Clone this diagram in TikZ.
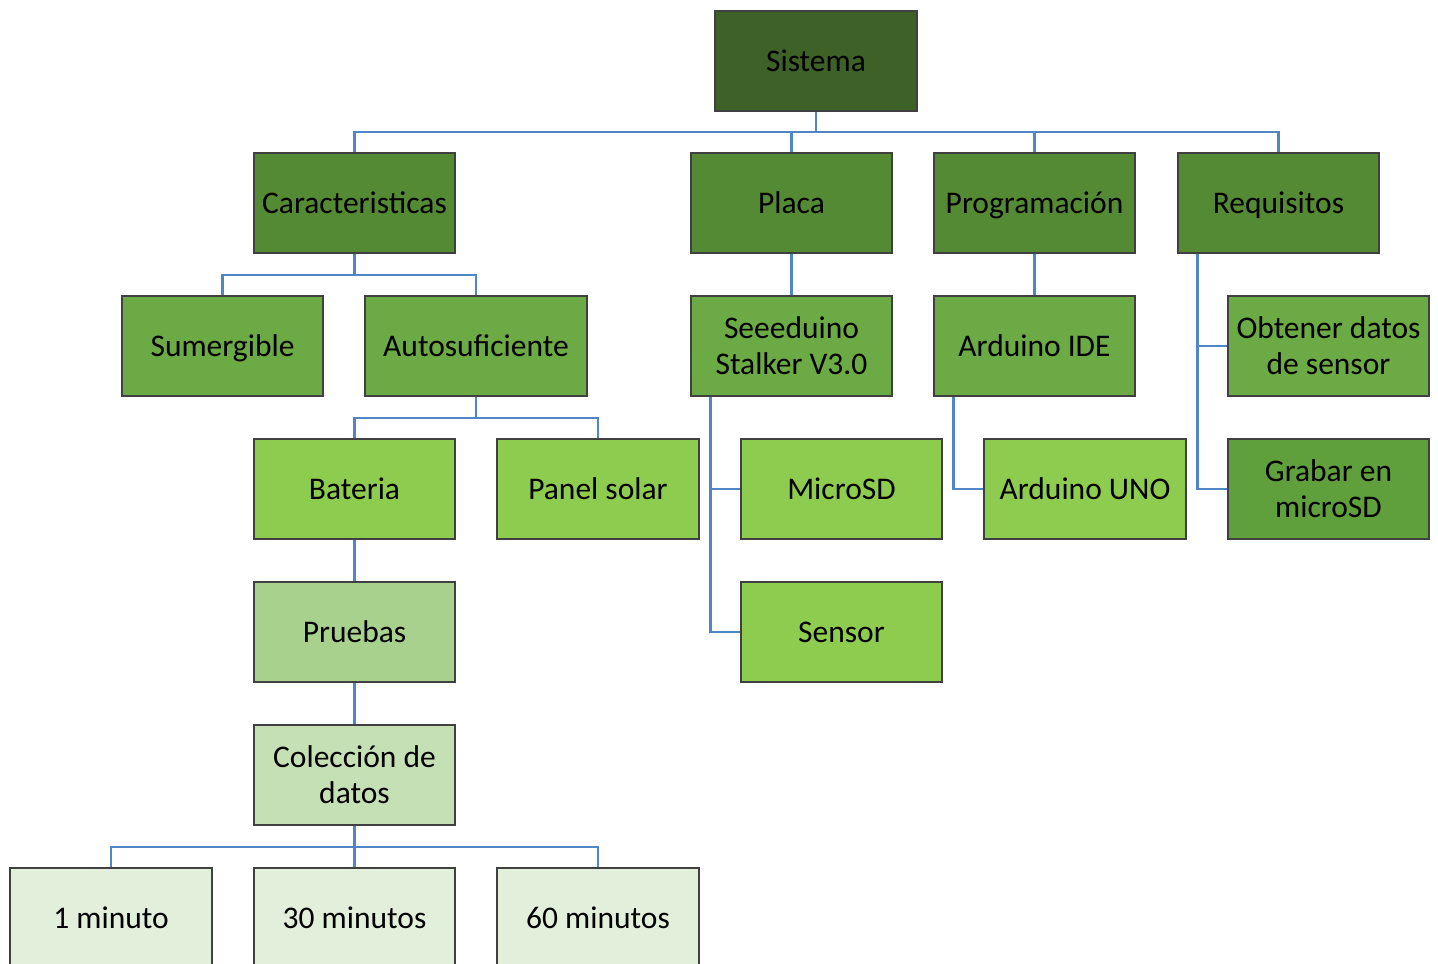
\documentclass[tikz,border=0pt]{standalone}
\usepackage{fontspec}
\setmainfont{Carlito}
\definecolor{cA}{HTML}{3D6126}
\definecolor{cB}{HTML}{558A34}
\definecolor{cC}{HTML}{6BAA44}
\definecolor{cCd}{HTML}{60A03C}
\definecolor{cD}{HTML}{8ECC50}
\definecolor{cE}{HTML}{A9D18E}
\definecolor{cF}{HTML}{C5E0B4}
\definecolor{cG}{HTML}{E2EFDA}
\definecolor{lnc}{HTML}{4F86C6}
\definecolor{bdc}{HTML}{404040}
\begin{document}
\begin{tikzpicture}[x=1pt,y=-1pt,
  box/.style={draw=bdc,line width=1.2pt,rectangle,minimum width=201pt,minimum height=100pt,
    inner sep=2pt,align=center,font=\fontsize{31.5}{36}\selectfont,text=black},
  one/.style={text height=24pt,text depth=4pt},
  conn/.style={draw=lnc,line width=2.8pt}]
\clip (0,0) rectangle (1438,964);
\fill[white] (0,0) rectangle (1438,964);
% nodes
\node[box,one,fill=cA,minimum width=202pt] (sis) at (816,61) {Sistema};
\node[box,one,fill=cB] (car) at (354.5,203) {Caracteristicas};
\node[box,one,fill=cB] (pla) at (791.5,203) {Placa};
\node[box,one,fill=cB] (pro) at (1034.5,203) {Programación};
\node[box,one,fill=cB] (req) at (1278.5,203) {Requisitos};
\node[box,one,fill=cC] (sum) at (222.5,346) {Sumergible};
\node[box,one,fill=cC,minimum width=222pt] (aut) at (476,346) {Autosuficiente};
\node[box,fill=cC] (see) at (791.5,346) {Seeeduino\\Stalker V3.0};
\node[box,one,fill=cC] (ide) at (1034.5,346) {Arduino IDE};
\node[box,fill=cC] (obt) at (1328.5,346) {Obtener datos\\de sensor};
\node[box,one,fill=cD] (bat) at (354.5,489) {Bateria};
\node[box,one,fill=cD,minimum width=202pt] (pan) at (598,489) {Panel solar};
\node[box,one,fill=cD] (mic) at (841.5,489) {MicroSD};
\node[box,one,fill=cD,minimum width=202pt] (uno) at (1085,489) {Arduino UNO};
\node[box,fill=cCd] (gra) at (1328.5,489) {Grabar en\\microSD};
\node[box,one,fill=cE] (pru) at (354.5,632) {Pruebas};
\node[box,one,fill=cD] (sen) at (841.5,632) {Sensor};
\node[box,fill=cF] (col) at (354.5,775) {Colección de\\datos};
\node[box,one,fill=cG,minimum width=202pt] (m1) at (111,918) {1 minuto};
\node[box,one,fill=cG] (m30) at (354.5,918) {30 minutos};
\node[box,one,fill=cG,minimum width=202pt] (m60) at (598,918) {60 minutos};
% branch coordinates
\coordinate (b1) at (816,132);
\coordinate (b2) at (354.5,275);
\coordinate (b3) at (476,418);
\coordinate (b4) at (354.5,847);
% connectors
\draw[conn] (sis.south) -- (b1);
\draw[conn] (car.north) -- (car.north |- b1) -- (req.north |- b1) -- (req.north);
\draw[conn] (pla.north) -- (pla.north |- b1);
\draw[conn] (pro.north) -- (pro.north |- b1);
\draw[conn] (car.south) -- (b2);
\draw[conn] (sum.north) -- (sum.north |- b2) -- (aut.north |- b2) -- (aut.north);
\draw[conn] (aut.south) -- (b3);
\draw[conn] (bat.north) -- (bat.north |- b3) -- (pan.north |- b3) -- (pan.north);
\draw[conn] (bat.south) -- (pru.north);
\draw[conn] (pru.south) -- (col.north);
\draw[conn] (col.south) -- (b4);
\draw[conn] (m1.north) -- (m1.north |- b4) -- (m60.north |- b4) -- (m60.north);
\draw[conn] (m30.north) -- (m30.north |- b4);
\draw[conn] (pla.south) -- (see.north);
\draw[conn] (pro.south) -- (ide.north);
\draw[conn] ([xshift=20pt]see.south west) |- (mic.west);
\draw[conn] ([xshift=20pt]see.south west) |- (sen.west);
\draw[conn] ([xshift=20pt]ide.south west) |- (uno.west);
\draw[conn] ([xshift=20pt]req.south west) |- (obt.west);
\draw[conn] ([xshift=20pt]req.south west) |- (gra.west);
\end{tikzpicture}
\end{document}
